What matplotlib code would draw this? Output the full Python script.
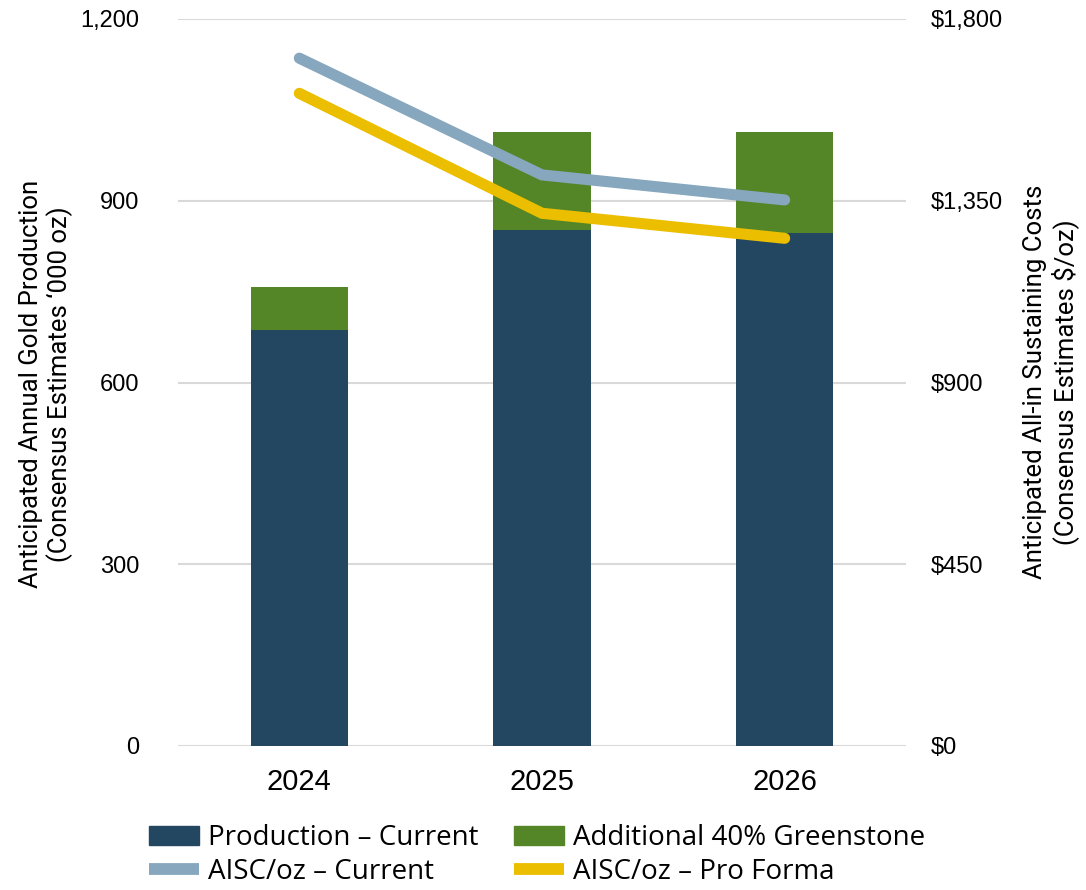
import matplotlib
matplotlib.use("Agg")
import matplotlib.pyplot as plt
from matplotlib.patches import Patch
from matplotlib.lines import Line2D
from matplotlib.ticker import FuncFormatter

years = ["2024", "2025", "2026"]
production_current = [687, 852, 847]
additional_greenstone = [71, 161, 166]
aisc_current = [1703, 1414, 1352]
aisc_pro_forma = [1616, 1319, 1257]

c_dark = "#244761"
c_green = "#548526"
c_lblue = "#86A7BD"
c_yellow = "#EBBE00"
c_grid = "#D9D9D9"

tick_font = ["Liberation Sans", "DejaVu Sans"]
label_font = ["Liberation Sans Narrow", "Roboto", "DejaVu Sans"]
legend_font = ["Open Sans", "DejaVu Sans"]

fig = plt.figure(figsize=(10.86, 8.90), dpi=100)
ax = fig.add_axes([178/1086, 1-746/890, (906-178)/1086, (746-19)/890])
ax2 = ax.twinx()

x = list(range(len(years)))
ax.bar(x, production_current, width=0.4, color=c_dark, zorder=2)
ax.bar(x, additional_greenstone, width=0.4, bottom=production_current, color=c_green, zorder=2)

ax.set_ylim(0, 1200)
ax.set_yticks([0, 300, 600, 900, 1200])
ax.yaxis.set_major_formatter(FuncFormatter(lambda v, p: f"{v:,.0f}"))
ax.set_xlim(-0.5, 2.5)
ax.set_xticks(x)
ax.set_xticklabels(years)
ax.grid(axis="y", color=c_grid, linewidth=1.5, zorder=0)
ax.set_axisbelow(True)

ax2.plot(x, aisc_current, color=c_lblue, linewidth=8, solid_capstyle="round", solid_joinstyle="miter", zorder=3)
ax2.plot(x, aisc_pro_forma, color=c_yellow, linewidth=8, solid_capstyle="round", solid_joinstyle="miter", zorder=3)
ax2.set_ylim(0, 1800)
ax2.set_yticks([0, 450, 900, 1350, 1800])
ax2.yaxis.set_major_formatter(FuncFormatter(lambda v, p: f"${v:,.0f}"))

for a in (ax, ax2):
    for s in a.spines.values():
        s.set_visible(False)
    a.tick_params(length=0)

for lab in ax.get_yticklabels():
    lab.set_fontfamily(tick_font); lab.set_fontsize(17)
for lab in ax2.get_yticklabels():
    lab.set_fontfamily(tick_font); lab.set_fontsize(17)
for lab in ax.get_xticklabels():
    lab.set_fontfamily(tick_font); lab.set_fontsize(21)
ax.tick_params(axis="y", pad=28)
ax2.tick_params(axis="y", pad=18)
ax.tick_params(axis="x", pad=16)

fig.text(46/1086, 1-384/890, "Anticipated Annual Gold Production\n(Consensus Estimates \u2018000 oz)",
         rotation=90, ha="center", va="center", fontsize=18.5, family=label_font,
         multialignment="center", linespacing=1.15)
fig.text(1051/1086, 1-382/890, "Anticipated All-in Sustaining Costs\n(Consensus Estimates $/oz)",
         rotation=90, ha="center", va="center", fontsize=18.5, family=label_font,
         multialignment="center", linespacing=1.15)

handles = [Patch(color=c_dark), Line2D([], [], color=c_lblue, linewidth=8.5, solid_capstyle="butt"),
           Patch(color=c_green), Line2D([], [], color=c_yellow, linewidth=8.5, solid_capstyle="butt")]
labels = ["Production \u2013 Current", "AISC/oz \u2013 Current",
          "Additional 40% Greenstone", "AISC/oz \u2013 Pro Forma"]
fig.legend(handles, labels, ncol=2, loc="center", bbox_to_anchor=(537/1086, 1-855/890),
           frameon=False, prop={"family": legend_font, "size": 20},
           handlelength=1.8, handletextpad=0.35, columnspacing=1.25, labelspacing=0.2,
           borderpad=0)

fig.savefig("out.png", dpi=100)
